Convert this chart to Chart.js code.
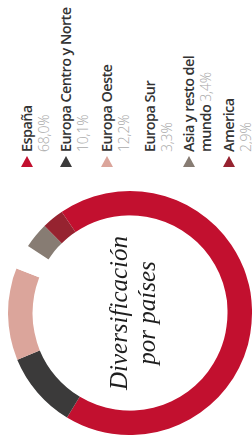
<!DOCTYPE html>
<html>
<head>
<meta charset="utf-8">
<script src="https://cdn.jsdelivr.net/npm/chart.js@4"></script>
<style>
  html, body { margin: 0; padding: 0; background: #fff; overflow: hidden; }
  body { width: 252px; height: 437px; position: relative; }
  /* the whole page is drawn sideways, like the scan */
  #wrap {
    position: absolute; left: 0; top: 0;
    width: 437px; height: 252px;
    transform-origin: 0 0;
    transform: translateY(437px) rotate(-90deg);
  }
  #chartBox { position: absolute; left: 2px; top: 8px; width: 244px; height: 244px; }
  #legend { position: absolute; left: 270px; top: 0; width: 167px; height: 252px; }
  .item { position: absolute; left: 0; }
  .tri {
    position: absolute; left: 0; top: 3px;
    width: 0; height: 0;
    border-top: 6px solid transparent;
    border-bottom: 6px solid transparent;
    border-left: 11px solid #000;
  }
  .name, .val {
    position: absolute; left: 15px; white-space: nowrap;
    font-family: "Open Sans", sans-serif; line-height: 17px;
  }
  .name { font-size: 14.5px; font-weight: 600; color: #333; letter-spacing: -0.6px; }
  .val { font-size: 14px; font-weight: 300; color: #aaa; letter-spacing: -0.2px; }
</style>
</head>
<body>
<div id="wrap">
  <div id="chartBox"><canvas id="donut"></canvas></div>
  <div id="legend"></div>
</div>
<script>
  const regions = ["España", "Europa Centro y Norte", "Europa Oeste", "Europa Sur", "Asia y resto del mundo", "America"]
  const shares = [68.0, 10.1, 12.2, 3.3, 3.4, 2.9]
  const shareLabels = ["68,0%", "10,1%", "12,2%", "3,3%", "3,4%", "2,9%"]
  const colors = ["#c2102f", "#3b3a3a", "#dba59b", "#ffffff", "#877c73", "#962330"]
  // legend rows (top of the name line, in px)
  const legendTops = [18, 57, 98, 141, 180, 220]

  const centerText = {
    id: "centerText",
    afterDraw(chart) {
      const { ctx, chartArea } = chart
      const cx = (chartArea.left + chartArea.right) / 2
      const cy = (chartArea.top + chartArea.bottom) / 2
      ctx.save()
      ctx.fillStyle = "#1e1e1e"
      ctx.font = "italic 25px 'Liberation Serif', serif"
      ctx.textAlign = "center"
      ctx.textBaseline = "middle"
      ctx.fillText("Diversificación", cx, cy - 10)
      ctx.fillText("por países", cx, cy + 18)
      ctx.restore()
    },
  }

  const ctx = document.getElementById("donut")

  new Chart(ctx, {
    type: "doughnut",
    data: {
      labels: regions,
      datasets: [
        {
          data: shares,
          backgroundColor: colors,
          borderWidth: 0,
        },
      ],
    },
    options: {
      responsive: true,
      maintainAspectRatio: false,
      animation: false,
      cutout: "80%",
      rotation: 56,
      layout: { padding: 0 },
      plugins: {
        legend: { display: false },
        tooltip: { enabled: false },
      },
    },
    plugins: [centerText],
  })

  // Legend
  const legend = document.getElementById("legend")
  regions.forEach((name, i) => {
    const item = document.createElement("div")
    item.className = "item"
    item.style.top = legendTops[i] + "px"
    if (colors[i] != "#ffffff") {
      const tri = document.createElement("div")
      tri.className = "tri"
      tri.style.borderLeftColor = colors[i]
      item.appendChild(tri)
    }
    const n = document.createElement("div")
    n.className = "name"
    n.style.top = "0px"
    if (name == "Asia y resto del mundo") {
      n.innerHTML = "Asia y resto del<br>mundo <span class='val' style='position:static'>" + shareLabels[i] + "</span>"
      item.appendChild(n)
    } else {
      n.textContent = name
      item.appendChild(n)
      const v = document.createElement("div")
      v.className = "val"
      v.style.top = "17px"
      v.textContent = shareLabels[i]
      item.appendChild(v)
    }
    legend.appendChild(item)
  })
</script>
</body>
</html>
